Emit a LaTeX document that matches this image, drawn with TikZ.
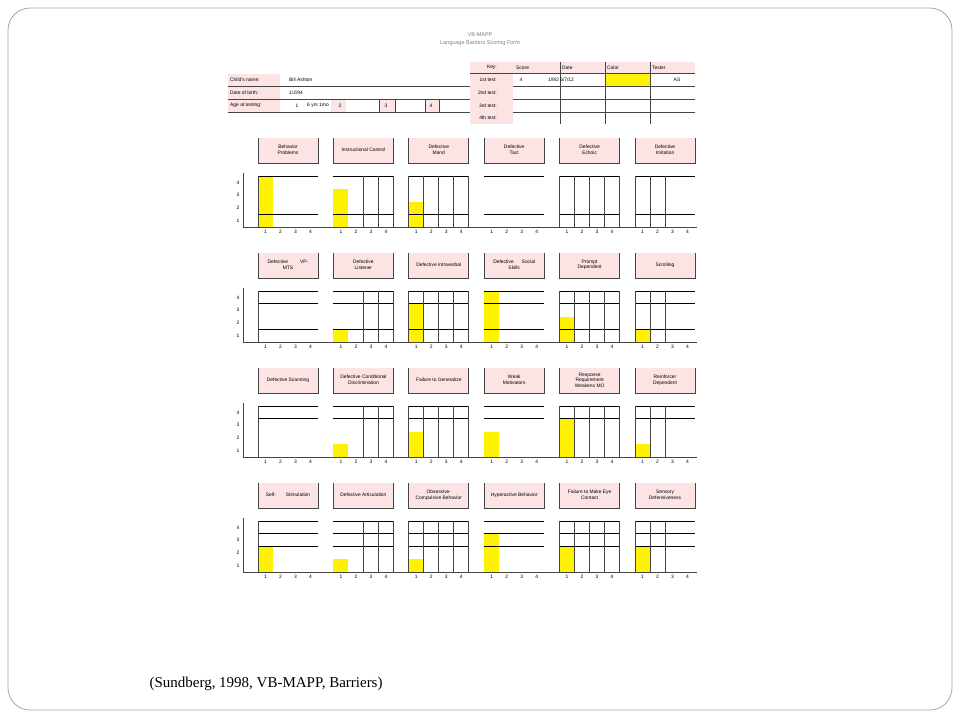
\documentclass[tikz,border=0pt]{standalone}
\usepackage{fontspec}
\setmainfont{Liberation Sans}
\newfontfamily\capfont{Liberation Serif}
\definecolor{pinkc}{HTML}{FCE4E4}
\definecolor{yel}{HTML}{FFF200}
\definecolor{dk}{HTML}{444444}
\tikzset{
  tiny/.style={font=\fontsize{4.9}{5.6}\selectfont, text=black, inner sep=0pt, align=center},
  gl/.style={line width=0.8pt, draw=black},
  vl/.style={line width=1pt, draw=dk},
}
\newcommand{\lblbox}[3]{%
  \pgfmathsetmacro{\xa}{258+75.4*#2}\pgfmathsetmacro{\ya}{138+115*#1}%
  \fill[pinkc] (\xa,\ya) rectangle ++(60,25);
  \draw[vl] (\xa,\ya) -- ++(0,25) -- ++(60,0) -- ++(0,-25);
  \node[tiny] (lbl-#1-#2) at (\xa+30,\ya+12) {#3};}
\begin{document}
\begin{tikzpicture}[x=1pt,y=-1pt]
\useasboundingbox (0,0) rectangle (960,720);
\draw[gray!70, line width=0.8pt, rounded corners=22pt] (8,8) rectangle (952,710);
% title
\node[font=\fontsize{5.5}{6}\selectfont, text=gray] (t1) at (480,35) {VB-MAPP};
\node[font=\fontsize{5.5}{6}\selectfont, text=gray] (t2) at (480,43) {Language Barriers Scoring Form};
% left table
\fill[pinkc] (228,74) rectangle (280,112);
\fill[pinkc] (331,99) rectangle (346,112);
\fill[pinkc] (379,99) rectangle (395,112);
\fill[pinkc] (425,99) rectangle (439,112);
\draw[vl] (228,86)--(470,86) (228,99)--(470,99) (228,112)--(470,112) (470,74)--(470,112);
\draw[vl] (379,99)--(379,112) (395,99)--(395,112) (425,99)--(425,112) (439,99)--(439,112);
\node[tiny,anchor=west] (cn) at (230,80) {Child's name:};
\node[tiny,anchor=west] (cnv) at (289,80) {Bill Ashton};
\node[tiny,anchor=west] (db) at (230,92.5) {Date of birth:};
\node[tiny,anchor=west] (dbv) at (289,92.5) {1/2/94};
\node[tiny,anchor=west] (ag) at (230,105.5) {Age at testing:};
\node[tiny] (a1) at (297,105.5) {1};
\node[tiny] (a1v) at (318,105.5) {6 yrs 1mo};
\node[tiny] (a2) at (340,105.5) {2};
\node[tiny] (a3) at (386,105.5) {3};
\node[tiny] (a4) at (431,105.5) {4};
% right table
\fill[pinkc] (470,62) rectangle (695,73);
\fill[pinkc] (470,73) rectangle (513,124);
\fill[yel] (605,73) rectangle (650,86);
\draw[vl] (470,73)--(695,73) (513,86)--(695,86) (513,99)--(695,99) (513,112)--(695,112);
\draw[vl] (560,62)--(560,124) (605,62)--(605,124) (650,62)--(650,124);
\node[tiny,anchor=east] (k0) at (497,67.5) {Key:};
\node[tiny,anchor=west] (k1) at (516,67.5) {Score};
\node[tiny,anchor=west] (k2) at (562,67.5) {Date};
\node[tiny,anchor=west] (k3) at (607,67.5) {Color};
\node[tiny,anchor=west] (k4) at (652,67.5) {Tester};
\node[tiny,anchor=east] (r1) at (497,79.5) {1st test:};
\node[tiny,anchor=east] (r2) at (497,92.5) {2nd test:};
\node[tiny,anchor=east] (r3) at (497,105.5) {3rd test:};
\node[tiny,anchor=east] (r4) at (497,118) {4th test:};
\node[tiny] (s1) at (521,79.5) {4};
\node[tiny] (d1) at (561,79.5) {1/9/2 6/7/12};
\node[tiny] (te1) at (677,79.5) {AS};
% panels
\foreach \r/\hl/\bars in {0/{4,1}/{4,3,2,0,0,0},1/{4,3,1}/{0,1,3,4,2,1},2/{4,3}/{0,1,2,2,3,1},3/{4,3,2}/{2,1,1,3,2,2}}{
  \pgfmathsetmacro{\By}{227+115*\r}
  \pgfmathsetmacro{\Ty}{\By-51}
  \foreach \b [count=\c from 0] in \bars {
    \pgfmathsetmacro{\xa}{258+75.4*\c}
    \ifnum\b>0 \fill[yel] (\xa,\By) rectangle ++(15,-12.75*\b); \fi
    \foreach \h in \hl { \draw[gl] (\xa,\By-12.75*\h) -- ++(60,0); }
    \foreach \k in {1,2,3,4} { \node[tiny] (x-\r-\c-\k) at (\xa-7.5+15*\k,\By+5) {\k}; }
  }
  \foreach \c/\vls in {0/{0},1/{2,3,4},2/{0,1,2,3,4},3/{9},4/{0,1,2,3,4},5/{0,1,2}}{
    \pgfmathsetmacro{\xa}{258+75.4*\c}
    \foreach \k in \vls { \ifnum\k<5 \draw[vl] (\xa+15*\k,\Ty) -- (\xa+15*\k,\By); \fi }
  }
  \draw[vl] (243,\Ty-3) -- (243,\By) -- (697,\By);
  \foreach \k in {1,2,3,4} { \node[tiny] (y-\r-\k) at (238,\By-12.75*\k+6.4) {\k}; }
}
\lblbox{0}{0}{Behavior\\Problems}
\lblbox{0}{1}{Instructional Control}
\lblbox{0}{2}{Defective\\Mand}
\lblbox{0}{3}{Defective\\Tact}
\lblbox{0}{4}{Defective\\Echoic}
\lblbox{0}{5}{Defective\\Imitation}
\lblbox{1}{0}{Defective\hspace{12pt}VP-\\MTS}
\lblbox{1}{1}{Defective\\Listener}
\lblbox{1}{2}{Defective Intraverbal}
\lblbox{1}{3}{Defective\hspace{8pt}Social\\Skills}
\lblbox{1}{4}{Prompt\\Dependent}
\lblbox{1}{5}{Scrolling}
\lblbox{2}{0}{Defective Scanning}
\lblbox{2}{1}{Defective Conditional\\Discrimination}
\lblbox{2}{2}{Failure to Generalize}
\lblbox{2}{3}{Weak\\Motivators}
\lblbox{2}{4}{Response\\Requirement\\Weakens MO}
\lblbox{2}{5}{Reinforcer\\Dependent}
\lblbox{3}{0}{Self-\hspace{10pt}Stimulation}
\lblbox{3}{1}{Defective Articulation}
\lblbox{3}{2}{Obsessive-\\Compulsive Behavior}
\lblbox{3}{3}{Hyperactive Behavior}
\lblbox{3}{4}{Failure to Make Eye\\Contact}
\lblbox{3}{5}{Sensory\\Defensiveness}
\node[font=\capfont\fontsize{15}{18}\selectfont, anchor=west] (cap) at (146,684) {(Sundberg, 1998, VB-MAPP, Barriers)};
\end{tikzpicture}
\end{document}
